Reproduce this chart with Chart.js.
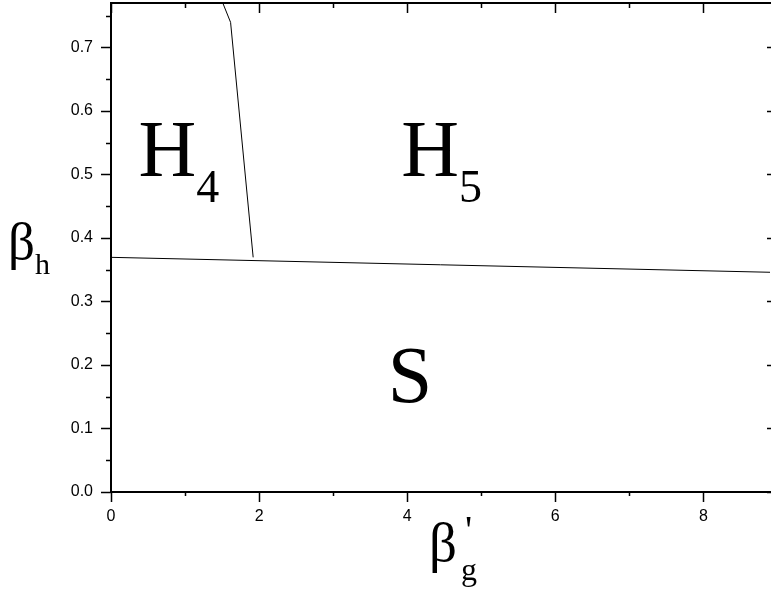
<!DOCTYPE html>
<html>
<head>
<meta charset="utf-8">
<script src="https://cdn.jsdelivr.net/npm/chart.js@4.4.1/dist/chart.umd.min.js"></script>
<style>
  body { margin: 0; background: #fff; }
  #wrap { width: 771px; height: 592px; }
</style>
</head>
<body>
<div id="wrap"><canvas id="myChart"></canvas></div>
<script>
// phase boundaries
const h45X = [1.51, 1.615, 1.92];
const h45Y = [0.77, 0.7395, 0.3695];
const sLineX = [0, 8.9];
const sLineY = [0.3695, 0.346];

// tick labels
const xTicks = [0, 2, 4, 6, 8];
const yTicks = [0, 0.1, 0.2, 0.3, 0.4, 0.5, 0.6, 0.7];

// region labels (main text, subscript, anchor in data units)
const regionText = ['H', 'H', 'S'];
const regionSub = ['4', '5', ''];
const regionX = [0.371, 3.92, 3.738];
const regionY = [0.4976, 0.4976, 0.1417];

function toPoints(xs, ys) {
    return xs.map((x, i) => ({ x: x, y: ys[i] }));
}

const decor = {
    id: 'decor',
    afterDraw(chart) {
        const c = chart.ctx;
        const a = chart.chartArea;
        const xs = chart.scales.x;
        const ys = chart.scales.y;
        c.save();
        c.strokeStyle = '#000';
        c.fillStyle = '#000';

        // top frame
        c.lineWidth = 2;
        c.beginPath();
        c.moveTo(a.left - 1, a.top);
        c.lineTo(chart.width, a.top);
        c.stroke();

        // ticks on x (bottom out, top in)
        c.lineWidth = 1.5;
        for (let v = 0; v <= 8.9; v += 1) {
            const px = Math.round(xs.getPixelForValue(v)) + 0.5;
            const major = v % 2 === 0;
            c.beginPath();
            c.moveTo(px, a.bottom);
            c.lineTo(px, a.bottom + (major ? 10 : 4));
            c.moveTo(px, a.top);
            c.lineTo(px, a.top + (major ? 10 : 5));
            c.stroke();
        }
        // ticks on y (left out, right in; right frame sits just off canvas)
        for (let i = 0; i <= 15; i++) {
            const v = i * 0.05;
            const py = Math.round(ys.getPixelForValue(v)) + 0.5;
            const major = i % 2 === 0;
            c.beginPath();
            c.moveTo(a.left, py);
            c.lineTo(a.left - (major ? 10 : 5), py);
            if (major) {
                c.moveTo(a.right + 1, py);
                c.lineTo(a.right - 3, py);
            }
            c.stroke();
        }

        // region labels
        c.textBaseline = 'alphabetic';
        c.textAlign = 'left';
        for (let i = 0; i < regionText.length; i++) {
            const px = xs.getPixelForValue(regionX[i]);
            const py = ys.getPixelForValue(regionY[i]);
            c.font = '80px "Liberation Serif", "Times New Roman", serif';
            c.fillText(regionText[i], px, py);
            const w = c.measureText(regionText[i]).width;
            if (regionSub[i]) {
                c.font = '46px "Liberation Serif", "Times New Roman", serif';
                c.fillText(regionSub[i], px + w, py + 26);
            }
        }

        // y axis title: beta_h
        c.font = '53px "Liberation Serif", serif';
        c.fillText('\u03B2', 8, 259);
        c.font = '30px "Liberation Serif", serif';
        c.fillText('h', 35, 274);

        // x axis title: beta'_g
        c.font = '55px "Liberation Serif", serif';
        c.fillText('\u03B2', 429, 561);
        c.font = '40px "Liberation Serif", serif';
        c.fillText("'", 465, 543);
        c.font = '32px "Liberation Serif", serif';
        c.fillText('g', 461, 580);
        c.restore();
    }
};

const tickFont = { family: '"Liberation Sans", Arial, sans-serif', size: 16 };

const ctx = document.getElementById('myChart').getContext('2d');
const myChart = new Chart(ctx, {
    type: 'scatter',
    data: {
        datasets: [{
            data: toPoints(h45X, h45Y),
            showLine: true,
            borderColor: '#000',
            borderWidth: 1,
            pointRadius: 0
        }, {
            data: toPoints(sLineX, sLineY),
            showLine: true,
            borderColor: '#000',
            borderWidth: 1,
            pointRadius: 0
        }]
    },
    options: {
        responsive: true,
        maintainAspectRatio: false,
        animation: false,
        layout: { autoPadding: false, padding: { top: 3, right: 1, left: 0, bottom: 0 } },
        plugins: { legend: { display: false }, tooltip: { enabled: false } },
        scales: {
            x: {
                type: 'linear',
                min: 0,
                max: 8.9,
                grid: { display: false, drawTicks: false },
                border: { display: true, color: '#000', width: 2 },
                afterBuildTicks: (scale) => { scale.ticks = xTicks.map(v => ({ value: v })); },
                afterFit: (scale) => {
                    scale.height = 100;
                    scale.paddingLeft = 0;
                    scale.paddingRight = 0;
                },
                ticks: {
                    color: '#000',
                    font: tickFont,
                    padding: 15,
                    maxRotation: 0,
                    callback: (v) => String(v)
                }
            },
            y: {
                type: 'linear',
                min: 0,
                max: 0.77,
                grid: { display: false, drawTicks: false },
                border: { display: true, color: '#000', width: 2 },
                afterBuildTicks: (scale) => { scale.ticks = yTicks.map(v => ({ value: v })); },
                afterFit: (scale) => {
                    scale.width = 111;
                    scale.paddingTop = 0;
                    scale.paddingBottom = 0;
                },
                ticks: {
                    color: '#000',
                    font: tickFont,
                    padding: 18,
                    callback: (v) => Number(v).toFixed(1)
                }
            }
        }
    },
    plugins: [decor]
});
</script>
</body>
</html>
